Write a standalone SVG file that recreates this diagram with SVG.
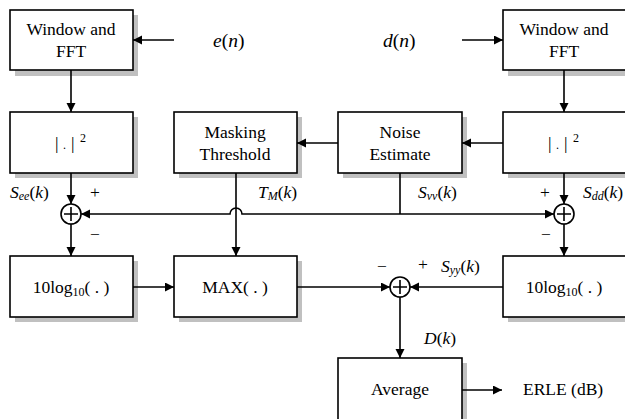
<svg xmlns="http://www.w3.org/2000/svg" width="625" height="419" viewBox="0 0 625 419">
<style>
.box{fill:#fff;stroke:#000;stroke-width:1.6}
.sh{fill:#c0c0c0}
.ln{fill:none;stroke:#000;stroke-width:1.6}
text{font-family:"Liberation Serif","Times New Roman",serif;font-size:17.5px;fill:#000}
.t{text-anchor:middle}
.i{font-style:italic}
.n{font-style:normal}
.sub{font-size:12px}
.big{font-size:19.5px}
</style>
<defs>
<marker id="ar" markerWidth="10" markerHeight="10" refX="9" refY="4.5" orient="auto" markerUnits="userSpaceOnUse">
<path d="M0,0 L9,4.5 L0,9 Z" fill="#000"/>
</marker>
</defs>
<rect width="625" height="419" fill="#fff"/>

<g id="win-left"><rect class="sh" x="15" y="15" width="123" height="61"/><rect class="box" x="10" y="10" width="123" height="60"/><text class="t" x="71" y="35">Window and</text><text class="t" x="71" y="57">FFT</text></g>
<g id="win-right"><rect class="sh" x="508" y="15" width="123" height="61"/><rect class="box" x="503" y="10" width="123" height="60"/><text class="t" x="564" y="35">Window and</text><text class="t" x="564" y="57">FFT</text></g>
<g id="abs-left"><rect class="sh" x="15" y="117" width="123" height="61"/><rect class="box" x="10" y="112" width="123" height="61"/><text x="55" y="149">|</text><text x="63" y="149" class="sub">.</text><text x="71" y="149">|</text><text x="80" y="142" class="sub">2</text></g>
<g id="abs-right"><rect class="sh" x="508" y="117" width="123" height="61"/><rect class="box" x="503" y="112" width="123" height="61"/><text x="548" y="149">|</text><text x="556" y="149" class="sub">.</text><text x="564" y="149">|</text><text x="573" y="142" class="sub">2</text></g>
<g id="masking"><rect class="sh" x="179" y="117" width="123" height="61"/><rect class="box" x="174" y="112" width="123" height="61"/><text class="t" x="235" y="138">Masking</text><text class="t" x="235" y="160">Threshold</text></g>
<g id="noise"><rect class="sh" x="343" y="117" width="124" height="61"/><rect class="box" x="338" y="112" width="124" height="61"/><text class="t" x="400" y="138">Noise</text><text class="t" x="400" y="160">Estimate</text></g>
<g id="log-left"><rect class="sh" x="15" y="261" width="123" height="61"/><rect class="box" x="10" y="256" width="123" height="61"/><text class="t" x="71" y="293">10log<tspan class="sub" dy="3">10</tspan><tspan dy="-3">( . )</tspan></text></g>
<g id="max"><rect class="sh" x="179" y="261" width="123" height="61"/><rect class="box" x="174" y="256" width="123" height="61"/><text class="t" x="235" y="293">MAX( . )</text></g>
<g id="log-right"><rect class="sh" x="508" y="261" width="123" height="61"/><rect class="box" x="503" y="256" width="123" height="61"/><text class="t" x="564" y="293">10log<tspan class="sub" dy="3">10</tspan><tspan dy="-3">( . )</tspan></text></g>
<g id="average"><rect class="sh" x="343" y="363" width="124" height="61"/><rect class="box" x="338" y="358" width="124" height="62"/><text class="t" x="400" y="395">Average</text></g>

<g id="sum-left"><circle class="box" cx="71" cy="214" r="10"/><path class="ln" d="M64,214 H78 M71,207 V221"/></g>
<g id="sum-right"><circle class="box" cx="564" cy="214" r="10"/><path class="ln" d="M557,214 H571 M564,207 V221"/></g>
<g id="sum-mid"><circle class="box" cx="400" cy="287" r="10"/><path class="ln" d="M393,287 H407 M400,280 V294"/></g>

<g id="connectors">
<line class="ln" x1="174" y1="40" x2="133" y2="40" marker-end="url(#ar)"/>
<line class="ln" x1="462" y1="40" x2="503" y2="40" marker-end="url(#ar)"/>
<line class="ln" x1="71" y1="70" x2="71" y2="112" marker-end="url(#ar)"/>
<line class="ln" x1="564" y1="70" x2="564" y2="112" marker-end="url(#ar)"/>
<line class="ln" x1="503" y1="143" x2="462" y2="143" marker-end="url(#ar)"/>
<line class="ln" x1="338" y1="143" x2="297" y2="143" marker-end="url(#ar)"/>
<line class="ln" x1="71" y1="173" x2="71" y2="204" marker-end="url(#ar)"/>
<line class="ln" x1="564" y1="173" x2="564" y2="204" marker-end="url(#ar)"/>
<line class="ln" x1="71" y1="224" x2="71" y2="256" marker-end="url(#ar)"/>
<line class="ln" x1="564" y1="224" x2="564" y2="256" marker-end="url(#ar)"/>
<line class="ln" x1="400" y1="173" x2="400" y2="214"/>
<path class="ln" d="M400,214 H242 A6,6 0 0 0 230,214 H81" marker-end="url(#ar)"/>
<line class="ln" x1="400" y1="214" x2="554" y2="214" marker-end="url(#ar)"/>
<line class="ln" x1="236" y1="173" x2="236" y2="256" marker-end="url(#ar)"/>
<line class="ln" x1="133" y1="287" x2="174" y2="287" marker-end="url(#ar)"/>
<line class="ln" x1="297" y1="287" x2="390" y2="287" marker-end="url(#ar)"/>
<line class="ln" x1="503" y1="287" x2="410" y2="287" marker-end="url(#ar)"/>
<line class="ln" x1="400" y1="297" x2="400" y2="358" marker-end="url(#ar)"/>
<line class="ln" x1="462" y1="390" x2="502" y2="390" marker-end="url(#ar)"/>
</g>

<g id="labels">
<text class="i big" x="213" y="47">e<tspan class="n">(</tspan>n<tspan class="n">)</tspan></text>
<text class="i big" x="383" y="47">d<tspan class="n">(</tspan>n<tspan class="n">)</tspan></text>
<text class="i" x="10" y="198">S<tspan class="sub" dy="2">ee</tspan><tspan dy="-2" class="n">(</tspan>k<tspan class="n">)</tspan></text>
<text x="90" y="198">+</text>
<text x="90" y="240">−</text>
<text class="i" x="258" y="198">T<tspan class="sub" dy="2">M</tspan><tspan dy="-2" class="n">(</tspan>k<tspan class="n">)</tspan></text>
<text class="i" x="418" y="198">S<tspan class="sub" dy="2">vv</tspan><tspan dy="-2" class="n">(</tspan>k<tspan class="n">)</tspan></text>
<text x="540" y="198">+</text>
<text x="541" y="240">−</text>
<text class="i" x="583" y="198">S<tspan class="sub" dy="2">dd</tspan><tspan dy="-2" class="n">(</tspan>k<tspan class="n">)</tspan></text>
<text x="377" y="272">−</text>
<text x="418" y="270">+</text>
<text class="i" x="441" y="272">S<tspan class="sub" dy="2">yy</tspan><tspan dy="-2" class="n">(</tspan>k<tspan class="n">)</tspan></text>
<text class="i" x="424" y="344">D<tspan class="n">(</tspan>k<tspan class="n">)</tspan></text>
<text x="523" y="395">ERLE (dB)</text>
</g>
</svg>
